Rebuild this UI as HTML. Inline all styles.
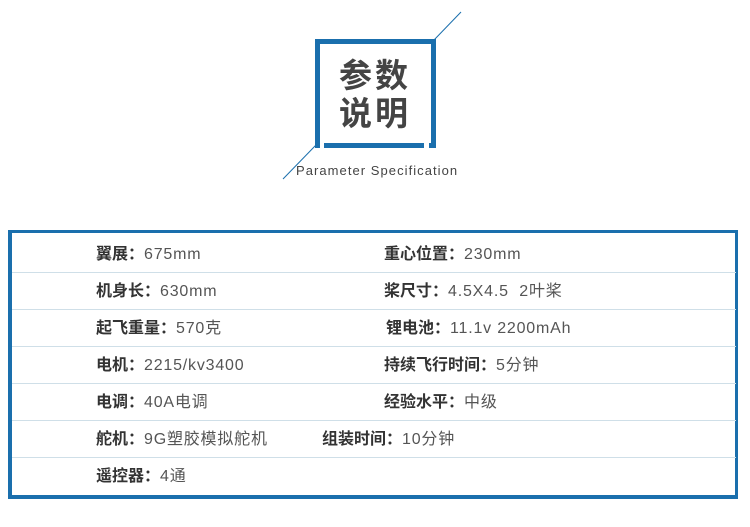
<!DOCTYPE html>
<html><head><meta charset="utf-8"><style>
body{margin:0;width:750px;height:527px;background:#fff;position:relative;overflow:hidden;font-family:"Liberation Sans","Noto Sans CJK SC",sans-serif;}
.a{position:absolute;}
.t{position:absolute;font-size:16px;color:#555;white-space:nowrap;line-height:20px;letter-spacing:0.8px;}
.t b{color:#333;font-weight:bold;letter-spacing:0;}
.sep{position:absolute;left:12px;width:724px;height:1px;background:#cfdfe8;}
</style></head><body>
<svg class="a" style="left:0;top:0" width="750" height="230">
<line x1="461" y1="12" x2="434" y2="40" stroke="#1a6fad" stroke-width="1"/>
<line x1="316" y1="145" x2="283" y2="179" stroke="#1a6fad" stroke-width="1"/>
<path d="M317.5 148 V41.5 H433.5 V148" fill="none" stroke="#1a6fad" stroke-width="5"/>
<rect x="324" y="143" width="100" height="5" fill="#1a6fad"/>
<rect x="429" y="143" width="7" height="5" fill="#1a6fad"/>
</svg>
<div class="a" style="left:328px;top:54px;width:94px;text-align:center;font-size:33px;line-height:38px;color:#444;font-family:'Noto Sans CJK SC',sans-serif;font-weight:bold;letter-spacing:3px">参数<br>说明</div>
<div class="a" style="left:296px;top:163px;font-size:13px;color:#444;letter-spacing:1.05px">Parameter Specification</div>
<div class="a" style="left:8px;top:230px;width:723px;height:262px;border:4px solid #1a6fad;border-top-width:3px;border-right-width:3px"></div>
<div class="sep" style="top:272px"></div><div class="sep" style="top:309px"></div><div class="sep" style="top:346px"></div><div class="sep" style="top:383px"></div><div class="sep" style="top:420px"></div><div class="sep" style="top:457px"></div>
<div class="t" style="left:96px;top:245px"><b>翼展：</b>675mm</div>
<div class="t" style="left:384px;top:245px"><b>重心位置：</b>230mm</div>
<div class="t" style="left:96px;top:282px"><b>机身长：</b>630mm</div>
<div class="t" style="left:384px;top:282px"><b>桨尺寸：</b>4.5X4.5&nbsp; 2叶桨</div>
<div class="t" style="left:96px;top:319px"><b>起飞重量：</b>570克</div>
<div class="t" style="left:386px;top:319px"><b>锂电池：</b>11.1v 2200mAh</div>
<div class="t" style="left:96px;top:356px"><b>电机：</b>2215/kv3400</div>
<div class="t" style="left:384px;top:356px"><b>持续飞行时间：</b>5分钟</div>
<div class="t" style="left:96px;top:393px"><b>电调：</b>40A电调</div>
<div class="t" style="left:384px;top:393px"><b>经验水平：</b>中级</div>
<div class="t" style="left:96px;top:430px"><b>舵机：</b>9G塑胶模拟舵机</div>
<div class="t" style="left:322px;top:430px"><b>组装时间：</b>10分钟</div>
<div class="t" style="left:96px;top:467px"><b>遥控器：</b>4通</div>
</body></html>
